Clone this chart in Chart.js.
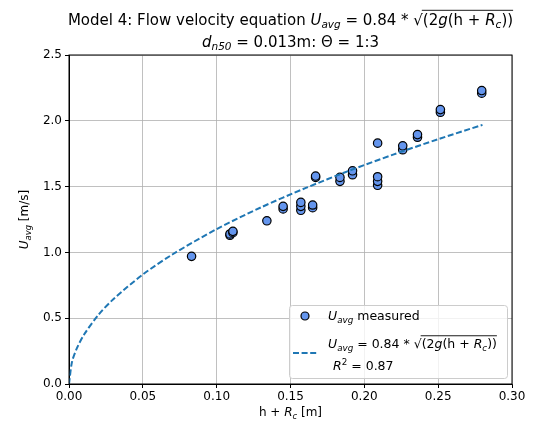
<!DOCTYPE html>
<html>
<head>
<meta charset="utf-8">
<script src="https://cdn.jsdelivr.net/npm/chart.js@4.4.1/dist/chart.umd.min.js"></script>
<style>
  body { margin: 0; background: #fff; }
  #wrap { width: 536px; height: 428px; position: relative; }
</style>
</head>
<body>
<div id="wrap"><canvas id="flowChart"></canvas></div>
<script>
// measured points: h + Rc [m] and Uavg [m/s]
const hRc = [0.083, 0.109, 0.109, 0.111, 0.111, 0.134, 0.145, 0.145, 0.157, 0.157, 0.157,
	0.165, 0.165, 0.167, 0.167, 0.1835, 0.1835, 0.192, 0.192, 0.209, 0.209, 0.209, 0.209,
	0.226, 0.226, 0.236, 0.236, 0.2515, 0.2515, 0.2795, 0.2795]
const uMeasured = [0.97, 1.13, 1.14, 1.15, 1.16, 1.24, 1.33, 1.35, 1.32, 1.35, 1.38,
	1.34, 1.36, 1.57, 1.58, 1.54, 1.57, 1.59, 1.62, 1.83, 1.51, 1.54, 1.575,
	1.78, 1.81, 1.875, 1.895, 2.065, 2.085, 2.21, 2.23]

// dashed model curve
const hRcModel = [0, 0.002, 0.005, 0.01, 0.02, 0.03, 0.05, 0.07, 0.1, 0.13, 0.16, 0.19, 0.22, 0.25, 0.28]
const uModel = [0, 0.166, 0.263, 0.372, 0.526, 0.644, 0.832, 0.984, 1.177, 1.342, 1.488, 1.622, 1.745, 1.860, 1.969]

const xTicks = [0, 0.05, 0.1, 0.15, 0.2, 0.25, 0.3]
const yTicks = [0, 0.5, 1.0, 1.5, 2.0, 2.5]

const FONT = '"DejaVu Sans", sans-serif'

// tiny mathtext-ish renderer: [text, style]  r = roman, i = italic, s = subscript, p = superscript, q = sqrt (overline to end)
function richFont(style, size) {
	const sz = (style === 's' || style === 'p') ? size * 0.7 : size
	const it = (style === 'i' || style === 's') ? 'italic ' : ''
	return it + sz + 'px ' + FONT
}
function richWidth(ctx, parts, size) {
	let w = 0
	parts.forEach(([t, st]) => { ctx.font = richFont(st, size); w += ctx.measureText(t).width })
	return w
}
function drawRich(ctx, parts, x, y, size, align) {
	const w = richWidth(ctx, parts, size)
	let cx = align === 'center' ? x - w / 2 : x
	let barStart = null
	ctx.textBaseline = 'alphabetic'
	ctx.textAlign = 'left'
	ctx.fillStyle = '#000'
	parts.forEach(([t, st]) => {
		ctx.font = richFont(st, size)
		let dy = 0
		if (st === 's') dy = size * 0.22
		if (st === 'p') dy = -size * 0.4
		ctx.fillText(t, cx, y + dy)
		cx += ctx.measureText(t).width
		if (st === 'q') barStart = cx
	})
	if (barStart !== null) {
		ctx.strokeStyle = '#000'
		ctx.lineWidth = 0.9
		ctx.beginPath()
		ctx.moveTo(barStart - 1, y - size * 0.98)
		ctx.lineTo(cx, y - size * 0.98)
		ctx.stroke()
	}
	return w
}

const eqParts = [['U', 'i'], ['avg', 's'], [' = 0.84 * ', 'r'], ['√', 'q'], ['(2', 'r'], ['g', 'i'], ['(h + ', 'r'], ['R', 'i'], ['c', 's'], ['))', 'r']]

const decorPlugin = {
	id: 'decor',
	afterDraw(chart) {
		const ctx = chart.ctx
		const a = chart.chartArea
		ctx.save()
		// frame
		ctx.strokeStyle = '#000'
		ctx.lineWidth = 1
		ctx.strokeRect(a.left, a.top, a.right - a.left, a.bottom - a.top)

		// title
		const mid = (a.left + a.right) / 2
		drawRich(ctx, [['Model 4: Flow velocity equation ', 'r']].concat(eqParts), mid, 25, 15, 'center')
		drawRich(ctx, [['d', 'i'], ['n50', 's'], [' = 0.013m: Θ = 1:3', 'r']], mid, 47, 15, 'center')

		// axis titles
		drawRich(ctx, [['h + ', 'r'], ['R', 'i'], ['c', 's'], [' [m]', 'r']], mid, 416, 12, 'center')
		ctx.save()
		ctx.translate(28, (a.top + a.bottom) / 2)
		ctx.rotate(-Math.PI / 2)
		drawRich(ctx, [['U', 'i'], ['avg', 's'], [' [m/s]', 'r']], 0, 0, 12, 'center')
		ctx.restore()

		// legend
		const lx = 289, ly = 305, lw = 218, lh = 73
		ctx.beginPath()
		ctx.roundRect(lx + 0.5, ly + 0.5, lw, lh, 3)
		ctx.fillStyle = 'rgba(255,255,255,0.8)'
		ctx.fill()
		ctx.strokeStyle = '#cccccc'
		ctx.lineWidth = 1
		ctx.stroke()

		ctx.beginPath()
		ctx.arc(305, 316, 4, 0, Math.PI * 2)
		ctx.fillStyle = '#6495ed'
		ctx.fill()
		ctx.strokeStyle = '#000'
		ctx.lineWidth = 1.2
		ctx.stroke()
		drawRich(ctx, [['U', 'i'], ['avg', 's'], [' measured', 'r']], 328, 320, 12.5, 'left')

		ctx.beginPath()
		ctx.setLineDash([6, 2.6])
		ctx.strokeStyle = '#1f77b4'
		ctx.lineWidth = 2
		ctx.moveTo(293, 353)
		ctx.lineTo(318, 353)
		ctx.stroke()
		ctx.setLineDash([])
		drawRich(ctx, eqParts, 328, 348, 12.5, 'left')
		drawRich(ctx, [['R', 'i'], ['2', 'p'], [' = 0.87', 'r']], 333, 370, 12.5, 'left')
		ctx.restore()
	}
}

const tickFont = { family: 'DejaVu Sans', size: 12 }

new Chart(document.getElementById('flowChart').getContext('2d'), {
	type: 'scatter',
	data: {
		datasets: [
			{
				label: 'model',
				data: hRcModel.map((x, i) => ({ x: x, y: uModel[i] })),
				showLine: true,
				borderColor: '#1f77b4',
				borderWidth: 2,
				borderDash: [6, 2.6],
				pointRadius: 0,
				tension: 0.3,
				fill: false,
			},
			{
				label: 'measured',
				data: hRc.map((x, i) => ({ x: x, y: uMeasured[i] })),
				backgroundColor: '#6495ed',
				borderColor: '#000',
				borderWidth: 1.2,
				pointRadius: 4.2,
			},
		],
	},
	options: {
		responsive: true,
		maintainAspectRatio: false,
		animation: false,
		layout: { padding: { left: 0, right: 24, top: 55, bottom: 0 } },
		plugins: {
			legend: { display: false },
			tooltip: { enabled: false },
		},
		scales: {
			x: {
				type: 'linear',
				min: 0,
				max: 0.3,
				afterBuildTicks: (s) => { s.ticks = xTicks.map(v => ({ value: v })) },
				ticks: { font: tickFont, color: '#000', padding: 2, maxRotation: 0, callback: (v) => v.toFixed(2) },
				grid: { color: '#b0b0b0', lineWidth: 0.8, tickColor: '#000', tickLength: 4, tickWidth: 1 },
				border: { color: '#000', width: 1 },
				afterFit: (s) => { s.height = 44 },
			},
			y: {
				min: 0,
				max: 2.5,
				afterBuildTicks: (s) => { s.ticks = yTicks.map(v => ({ value: v })) },
				ticks: { font: tickFont, color: '#000', padding: 3, callback: (v) => v.toFixed(1) },
				grid: { color: '#b0b0b0', lineWidth: 0.8, tickColor: '#000', tickLength: 4, tickWidth: 1 },
				border: { color: '#000', width: 1 },
				afterFit: (s) => { s.width = 69 },
			},
		},
	},
	plugins: [decorPlugin],
})
</script>
</body>
</html>
